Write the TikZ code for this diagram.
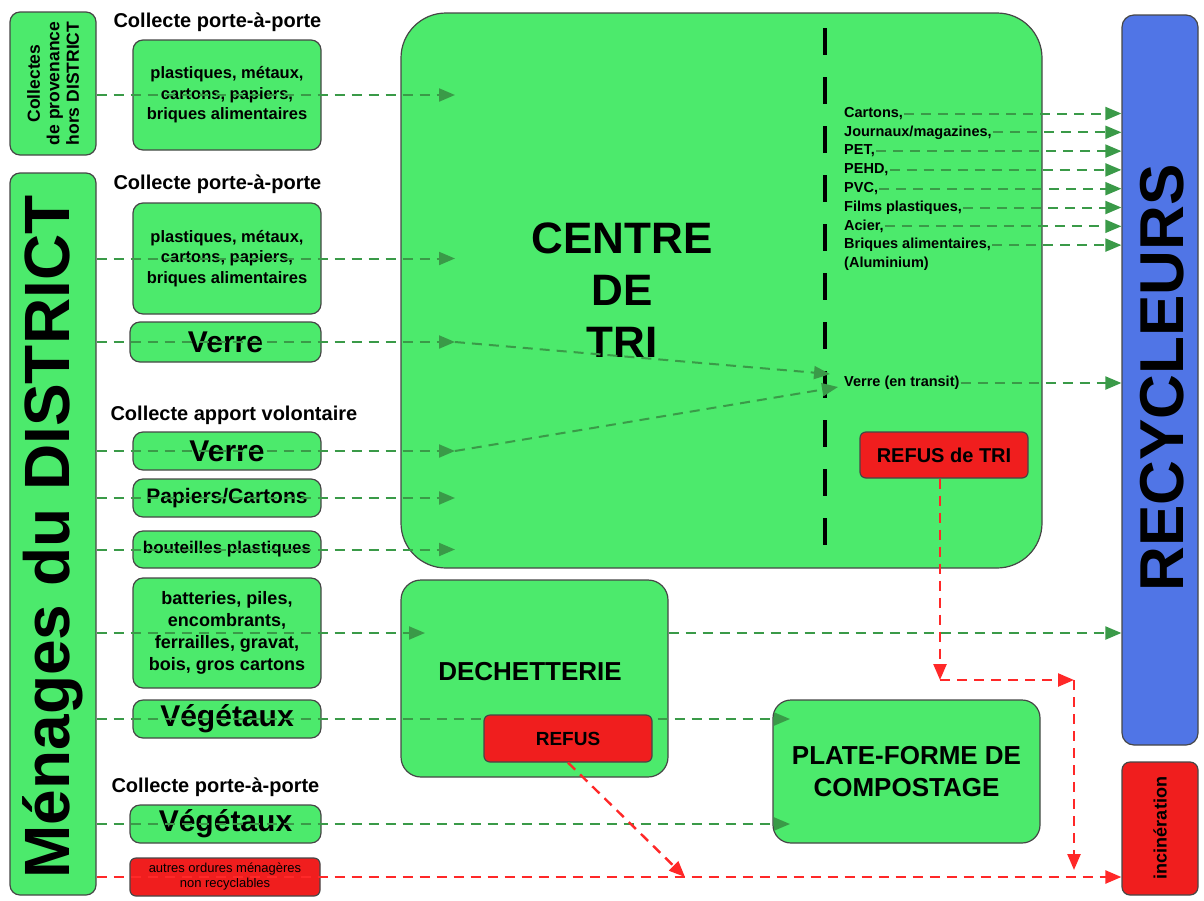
\documentclass[tikz,border=0pt]{standalone}
\usepackage{fontspec}
\setmainfont{Liberation Sans}
\usetikzlibrary{arrows.meta}
\definecolor{vert}{RGB}{76,234,108}
\definecolor{bleu}{RGB}{80,117,230}
\definecolor{rouge}{RGB}{240,30,30}
\definecolor{fleche}{RGB}{58,154,72}
\definecolor{flecherouge}{RGB}{255,40,40}
\definecolor{bord}{RGB}{70,70,70}
\begin{document}
\begin{tikzpicture}[x=1pt,y=-1pt,
  box/.style={draw=bord,fill=vert,line width=1.2pt,rounded corners=10pt,inner sep=0pt,align=center,font=\bfseries},
  rbox/.style={box,fill=rouge,rounded corners=6pt},
  flow/.style={draw=fleche,line width=2pt,dash pattern=on 10pt off 7pt,-{Triangle[length=16pt,width=13pt]}},
  reject/.style={flow,draw=flecherouge,line width=2.4pt},
  sous/.style={anchor=west,font=\fontsize{20}{24}\selectfont\bfseries},
  item/.style={anchor=west,inner sep=1pt,font=\fontsize{14.5}{16}\selectfont\bfseries}]
\useasboundingbox (0,0) rectangle (1204,900);

\node[box,minimum width=86pt,minimum height=143pt] (hors) at (53,83.5) {};
\node[rotate=90,align=center,font=\fontsize{17.5}{19.5}\selectfont\bfseries] (horstxt) at (hors.center) {Collectes\\de provenance\\hors DISTRICT};
\node[box,minimum width=86pt,minimum height=722pt] (men) at (53,534) {};
\node[rotate=90,font=\fontsize{64}{70}\selectfont\bfseries] (mentxt) at (53,537) {Ménages du DISTRICT};

\node[sous] (ppa1) at (110,22) {Collecte porte-à-porte};
\node[sous] (ppa2) at (110,184) {Collecte porte-à-porte};
\node[sous] (apv) at (107,415) {Collecte apport volontaire};
\node[sous] (ppa3) at (108,787) {Collecte porte-à-porte};

\node[box,minimum width=188pt,minimum height=110pt,font=\fontsize{16.5}{20.5}\selectfont\bfseries] (b1) at (227,95) {plastiques, métaux,\\cartons, papiers,\\briques alimentaires};
\node[box,minimum width=188pt,minimum height=111pt,font=\fontsize{16.5}{20.5}\selectfont\bfseries] (b2) at (227,258.5) {plastiques, métaux,\\cartons, papiers,\\briques alimentaires};
\node[box,minimum width=191pt,minimum height=40pt,font=\fontsize{30}{34}\selectfont\bfseries] (v1) at (225.5,342) {Verre};
\node[box,minimum width=188pt,minimum height=38pt,font=\fontsize{30}{34}\selectfont\bfseries] (v2) at (227,451) {Verre};
\node[box,minimum width=188pt,minimum height=38pt,font=\fontsize{21}{24}\selectfont\bfseries] (pap) at (227,498) {Papiers/Cartons};
\node[box,minimum width=188pt,minimum height=37pt,font=\fontsize{17}{20}\selectfont\bfseries] (bout) at (227,549.5) {bouteilles plastiques};
\node[box,minimum width=188pt,minimum height=110pt,font=\fontsize{18}{22}\selectfont\bfseries] (bat) at (227,633) {batteries, piles,\\encombrants,\\ferrailles, gravat,\\bois, gros cartons};
\node[box,minimum width=188pt,minimum height=38pt,font=\fontsize{30}{34}\selectfont\bfseries] (veg1) at (227,719) {Végétaux};
\node[box,minimum width=191pt,minimum height=38pt,font=\fontsize{30}{34}\selectfont\bfseries] (veg2) at (225.5,824) {Végétaux};
\node[rbox,minimum width=190pt,minimum height=38pt,font=\fontsize{13}{15}\selectfont] (ord) at (225,877) {autres ordures ménagères\\non recyclables};

\node[box,minimum width=641pt,minimum height=555pt,rounded corners=45pt] (tri) at (721.5,290.5) {};
\node[align=center,font=\fontsize{44}{52}\selectfont\bfseries] (tritxt) at (622,290) {CENTRE\\DE\\TRI};
\node[box,minimum width=267pt,minimum height=197pt,rounded corners=20pt] (dech) at (534.5,678.5) {};
\node[font=\fontsize{26}{30}\selectfont\bfseries] (dechtxt) at (530,672) {DECHETTERIE};
\node[box,minimum width=267pt,minimum height=143pt,rounded corners=18pt,font=\fontsize{26}{32}\selectfont\bfseries] (plate) at (906.5,771.5) {PLATE-FORME DE\\COMPOSTAGE};
\node[box,fill=bleu,minimum width=76pt,minimum height=730pt,rounded corners=12pt] (rec) at (1160,380) {};
\node[rotate=90,font=\fontsize{62}{68}\selectfont\bfseries] (rectxt) at (1162,378) {RECYCLEURS};
\node[rbox,minimum width=76pt,minimum height=133pt,rounded corners=8pt] (inc) at (1160,828.5) {};
\node[rotate=90,font=\fontsize{18}{20}\selectfont\bfseries] (inctxt) at (1160,828) {incinération};
\node[rbox,minimum width=168pt,minimum height=46pt,font=\fontsize{20}{24}\selectfont\bfseries] (refustri) at (944,455) {REFUS de TRI};

\coordinate (dtop) at (825,28);
\coordinate (dbot) at (825,552);
\draw[line width=4pt,dash pattern=on 27pt off 22pt] (dtop) -- (dbot);

\foreach \t [count=\i] in {{Cartons,},{Journaux/magazines,},{PET,},{PEHD,},{PVC,},{Films plastiques,},{Acier,},{Briques alimentaires,},{(Aluminium)}}
  \node[item] (l\i) at (843,{113.5+18.8*(\i-1)}) {\t};
\foreach \i in {1,...,8}
  \draw[flow] (l\i.east) -- (l\i.east -| rec.west);
\node[item] (vtr) at (843,383) {Verre (en transit)};
\draw[flow] (vtr.east) -- (vtr.east -| rec.west);

\coordinate (trin) at (455,0);
\coordinate (dechin) at (425,0);
\coordinate (platein) at (790,0);
\coordinate (vt1) at (830,374);
\coordinate (vt2) at (838,387);
\coordinate (refusend) at (685,877);
\coordinate (k1) at (940,680);
\coordinate (k2) at (1074,680);
\coordinate (k3) at (1074,870);

\draw[flow] (b1 -| hors.east) -- (b1 -| trin);
\foreach \b in {b2,v1,v2,pap,bout}
  \draw[flow] (\b -| men.east) -- (\b -| trin);
\draw[flow] (v1 -| trin) -- (vt1);
\draw[flow] (v2 -| trin) -- (vt2);
\draw[flow] (bat -| men.east) -- (bat -| dechin);
\draw[flow] (bat -| dech.east) -- (bat -| rec.west);
\foreach \b in {veg1,veg2}
  \draw[flow] (\b -| men.east) -- (\b -| platein);
\draw[reject] (ord -| men.east) -- (ord -| inc.west);
\draw[reject] (refustri.south -| k1) -- (k1);
\draw[reject] (k1) -- (k2);
\draw[reject] (k2) -- (k3);

\node[rbox,minimum width=168pt,minimum height=47pt,font=\fontsize{19}{22}\selectfont\bfseries] (refus) at (568,738.5) {REFUS};
\draw[reject] (refus.south) -- (refusend);
\end{tikzpicture}
\end{document}
